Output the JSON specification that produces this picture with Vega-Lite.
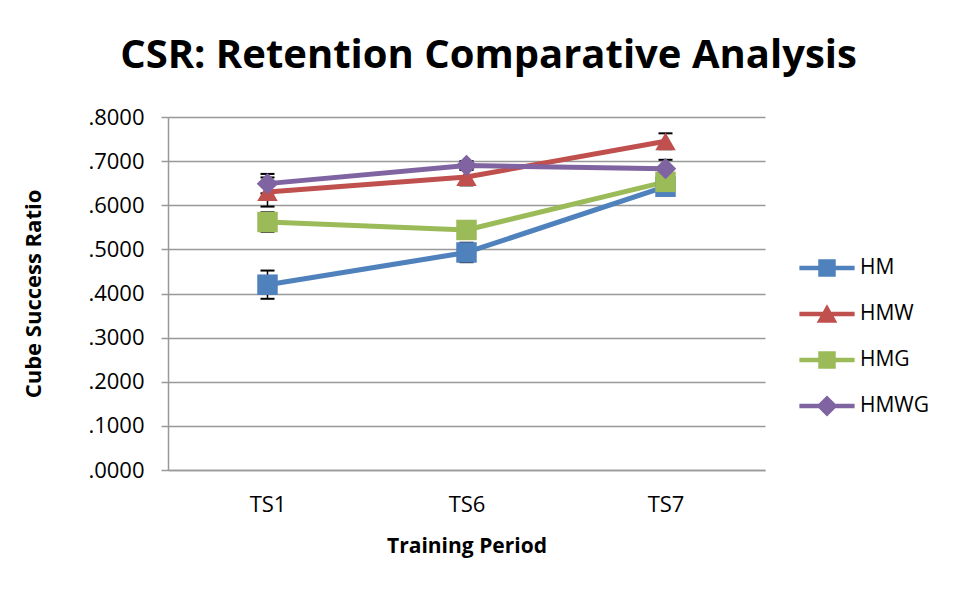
{
  "$schema": "https://vega.github.io/schema/vega-lite/v6.json",
  "width": 597,
  "height": 353,
  "autosize": {"type": "none"},
  "padding": {"left": 168, "top": 117, "right": 189, "bottom": 122},
  "background": "white",
  "config": {"view": {"stroke": null}},
  "title": {
    "text": "CSR: Retention Comparative Analysis",
    "font": "Open Sans",
    "fontSize": 40,
    "fontWeight": "bold",
    "color": "black",
    "frame": "group",
    "anchor": "middle",
    "baseline": "alphabetic",
    "offset": -2,
    "dx": 22
  },
  "data": {
    "values": [
      {"s": "HM", "p": "TS1", "v": 0.420, "lo": 0.388, "hi": 0.452},
      {"s": "HM", "p": "TS6", "v": 0.493, "lo": 0.471, "hi": 0.515},
      {"s": "HM", "p": "TS7", "v": 0.642, "lo": 0.628, "hi": 0.656},
      {"s": "HMW", "p": "TS1", "v": 0.630, "lo": 0.597, "hi": 0.663},
      {"s": "HMW", "p": "TS6", "v": 0.664, "lo": 0.645, "hi": 0.683},
      {"s": "HMW", "p": "TS7", "v": 0.745, "lo": 0.727, "hi": 0.763},
      {"s": "HMG", "p": "TS1", "v": 0.562, "lo": 0.540, "hi": 0.584},
      {"s": "HMG", "p": "TS6", "v": 0.544, "lo": 0.529, "hi": 0.559},
      {"s": "HMG", "p": "TS7", "v": 0.653, "lo": 0.638, "hi": 0.668},
      {"s": "HMWG", "p": "TS1", "v": 0.649, "lo": 0.627, "hi": 0.671},
      {"s": "HMWG", "p": "TS6", "v": 0.690, "lo": 0.680, "hi": 0.700},
      {"s": "HMWG", "p": "TS7", "v": 0.683, "lo": 0.663, "hi": 0.703}
    ]
  },
  "encoding": {
    "x": {
      "field": "p",
      "type": "nominal",
      "scale": {"type": "point", "padding": 0.5},
      "axis": {
        "title": "Training Period",
        "titleFont": "Open Sans",
        "titleFontSize": 21,
        "titleFontWeight": "bold",
        "titleColor": "black",
        "titlePadding": 20,
        "labelFont": "Open Sans",
        "labelFontSize": 22,
        "labelColor": "black",
        "labelPadding": 24,
        "labelAngle": 0,
        "ticks": false,
        "grid": false,
        "domainColor": "#999999",
        "domainWidth": 1.5
      }
    },
    "color": {
      "field": "s",
      "type": "nominal",
      "scale": {
        "domain": ["HM", "HMW", "HMG", "HMWG"],
        "range": ["#4F81BD", "#C0504D", "#9BBB59", "#8064A2"]
      },
      "legend": {
        "title": null,
        "orient": "none",
        "legendX": 636,
        "legendY": 128,
        "padding": 0,
        "rowPadding": 13,
        "labelFont": "Open Sans",
        "labelFontSize": 21,
        "labelColor": "black",
        "labelOffset": 10,
        "symbolSize": 2116,
        "symbolStrokeWidth": 0,
        "symbolType": "M-1.2,-0.1H1.2V0.1H-1.2Z M-0.38,-0.38H0.38V0.38H-0.38Z",
        "encode": {
          "symbols": {
            "enter": {
              "shape": {"signal": "datum.value === 'HMW' ? 'M-1.2,-0.1H1.2V0.1H-1.2Z M0,-0.42L0.45,0.38H-0.45Z' : datum.value === 'HMWG' ? 'M-1.2,-0.1H1.2V0.1H-1.2Z M0,-0.46L0.46,0L0,0.46L-0.46,0Z' : 'M-1.2,-0.1H1.2V0.1H-1.2Z M-0.38,-0.38H0.38V0.38H-0.38Z'"}
            },
            "update": {
              "shape": {"signal": "datum.value === 'HMW' ? 'M-1.2,-0.1H1.2V0.1H-1.2Z M0,-0.42L0.45,0.38H-0.45Z' : datum.value === 'HMWG' ? 'M-1.2,-0.1H1.2V0.1H-1.2Z M0,-0.46L0.46,0L0,0.46L-0.46,0Z' : 'M-1.2,-0.1H1.2V0.1H-1.2Z M-0.38,-0.38H0.38V0.38H-0.38Z'"},
              "fill": {"scale": "color", "field": "value"},
              "stroke": {"value": "transparent"},
              "opacity": {"value": 1},
              "fillOpacity": {"value": 1}
            }
          }
        }
      }
    }
  },
  "layer": [
    {
      "mark": {"type": "rule", "color": "black", "strokeWidth": 1.5},
      "encoding": {
        "y": {"field": "lo", "type": "quantitative"},
        "y2": {"field": "hi"},
        "color": {"value": "black"}
      }
    },
    {
      "mark": {"type": "tick", "color": "black", "size": 14, "thickness": 2, "opacity": 1},
      "encoding": {"y": {"field": "lo", "type": "quantitative"}, "color": {"value": "black"}}
    },
    {
      "mark": {"type": "tick", "color": "black", "size": 14, "thickness": 2, "opacity": 1},
      "encoding": {"y": {"field": "hi", "type": "quantitative"}, "color": {"value": "black"}}
    },
    {
      "mark": {"type": "line", "strokeWidth": 5, "strokeCap": "round", "strokeJoin": "round"},
      "encoding": {
        "y": {
          "field": "v",
          "type": "quantitative",
          "scale": {"domain": [0, 0.8], "nice": false},
          "axis": {
            "title": "Cube Success Ratio",
            "titleFont": "Open Sans",
            "titleFontSize": 22,
            "titleFontWeight": "bold",
            "titleColor": "black",
            "titlePadding": 42,
            "labelFont": "Open Sans",
            "labelFontSize": 22,
            "labelColor": "black",
            "labelPadding": 17,
            "values": [0, 0.1, 0.2, 0.3, 0.4, 0.5, 0.6, 0.7, 0.8],
            "labelExpr": "substring(format(datum.value, '.4f'), 1)",
            "tickSize": 7,
            "tickColor": "#999999",
            "tickWidth": 1.5,
            "domainColor": "#999999",
            "domainWidth": 1.5,
            "grid": true,
            "gridColor": "#999999",
            "gridWidth": 1.5
          }
        },
        "detail": {"field": "s"}
      }
    },
    {
      "transform": [{"filter": "datum.s === 'HM' || datum.s === 'HMG'"}],
      "mark": {"type": "point", "filled": true, "size": 420, "opacity": 1, "shape": "square"},
      "encoding": {"y": {"field": "v", "type": "quantitative"}}
    },
    {
      "transform": [{"filter": "datum.s === 'HMW'"}],
      "mark": {"type": "point", "filled": true, "size": 420, "opacity": 1, "shape": "triangle-up"},
      "encoding": {"y": {"field": "v", "type": "quantitative"}}
    },
    {
      "transform": [{"filter": "datum.s === 'HMWG'"}],
      "mark": {"type": "point", "filled": true, "size": 460, "opacity": 1, "shape": "diamond"},
      "encoding": {"y": {"field": "v", "type": "quantitative"}}
    }
  ]
}
